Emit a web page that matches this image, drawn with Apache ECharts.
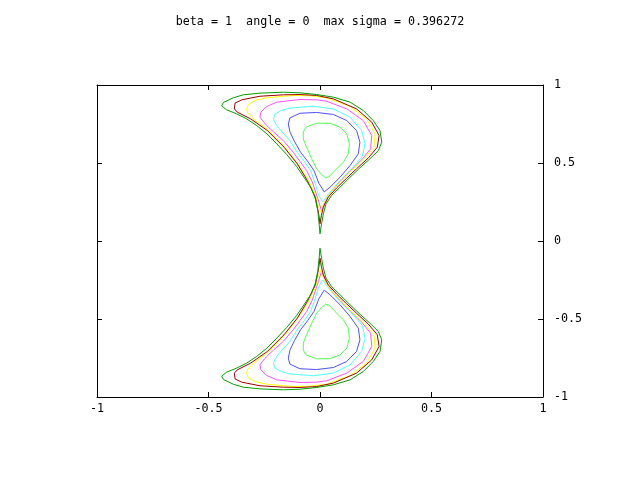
<!DOCTYPE html>
<html>
<head>
<meta charset="utf-8">
<script src="https://cdn.jsdelivr.net/npm/echarts@6/dist/echarts.min.js"></script>
<style>html,body{margin:0;padding:0;background:#fff;}#c{width:640px;height:480px;}</style>
</head>
<body>
<div id="c"></div>
<script>
const titleText = "beta = 1  angle = 0  max sigma = 0.396272";
const xTickValues = [-1, -0.5, 0, 0.5, 1];
const yTickValues = [-1, -0.5, 0, 0.5, 1];

// Contour levels, top lobe (outermost to innermost)
const topC1 = [[0,0.046],[-0.004,0.110],[-0.010,0.196],[-0.021,0.271],[-0.040,0.341],[-0.072,0.409],[-0.105,0.478],[-0.149,0.554],[-0.194,0.623],[-0.238,0.687],[-0.284,0.740],[-0.329,0.783],[-0.374,0.815],[-0.419,0.841],[-0.441,0.866],[-0.433,0.888],[-0.389,0.918],[-0.344,0.937],[-0.269,0.948],[-0.164,0.954],[-0.090,0.950],[-0.015,0.939],[0.060,0.922],[0.135,0.890],[0.194,0.837],[0.239,0.772],[0.269,0.708],[0.277,0.634],[0.262,0.580],[0.224,0.527],[0.179,0.469],[0.135,0.409],[0.090,0.345],[0.052,0.292],[0.027,0.238],[0.015,0.174],[0.007,0.110],[0,0.046]];
const topC2 = [[0,0.110],[-0.006,0.174],[-0.021,0.281],[-0.057,0.388],[-0.102,0.495],[-0.161,0.601],[-0.236,0.708],[-0.311,0.783],[-0.371,0.826],[-0.384,0.847],[-0.381,0.884],[-0.351,0.905],[-0.269,0.928],[-0.164,0.937],[-0.090,0.939],[-0.015,0.933],[0.060,0.911],[0.164,0.847],[0.232,0.762],[0.265,0.676],[0.257,0.601],[0.217,0.533],[0.164,0.463],[0.120,0.403],[0.075,0.341],[0.037,0.281],[0.015,0.217],[0.006,0.163],[0,0.110]];
const topC3 = [[0.003,0.185],[-0.007,0.217],[-0.022,0.302],[-0.060,0.409],[-0.105,0.505],[-0.164,0.612],[-0.239,0.719],[-0.299,0.783],[-0.326,0.826],[-0.329,0.847],[-0.321,0.875],[-0.291,0.901],[-0.239,0.918],[-0.120,0.933],[-0.045,0.931],[0.030,0.918],[0.135,0.862],[0.209,0.783],[0.247,0.687],[0.242,0.601],[0.202,0.533],[0.149,0.463],[0.105,0.398],[0.060,0.334],[0.027,0.270],[0.009,0.217],[0.003,0.185]];
const topC4 = [[0.007,0.195],[-0.012,0.281],[-0.035,0.380],[-0.060,0.452],[-0.090,0.510],[-0.120,0.569],[-0.165,0.644],[-0.209,0.700],[-0.239,0.740],[-0.260,0.775],[-0.269,0.794],[-0.265,0.826],[-0.239,0.862],[-0.194,0.890],[-0.090,0.907],[-0.015,0.905],[0.030,0.896],[0.120,0.847],[0.194,0.772],[0.232,0.676],[0.227,0.591],[0.191,0.527],[0.142,0.456],[0.097,0.392],[0.057,0.328],[0.027,0.264],[0.007,0.195]];
const topC5 = [[0.012,0.250],[-0.005,0.290],[-0.022,0.370],[-0.042,0.452],[-0.070,0.510],[-0.103,0.569],[-0.135,0.644],[-0.170,0.700],[-0.194,0.740],[-0.209,0.783],[-0.202,0.815],[-0.172,0.837],[-0.135,0.852],[-0.030,0.864],[0.060,0.847],[0.135,0.794],[0.187,0.708],[0.202,0.623],[0.190,0.542],[0.142,0.463],[0.090,0.388],[0.045,0.313],[0.012,0.250]];
const topC6 = [[0.019,0.315],[-0.005,0.370],[-0.027,0.452],[-0.055,0.510],[-0.087,0.569],[-0.115,0.640],[-0.135,0.700],[-0.142,0.751],[-0.135,0.789],[-0.090,0.819],[-0.015,0.824],[0.060,0.811],[0.120,0.772],[0.164,0.708],[0.179,0.634],[0.172,0.559],[0.135,0.484],[0.090,0.409],[0.045,0.345],[0.019,0.315]];
const topC7 = [[0.025,0.405],[0.007,0.426],[-0.015,0.463],[-0.037,0.527],[-0.060,0.601],[-0.075,0.655],[-0.075,0.698],[-0.063,0.730],[-0.015,0.755],[0.045,0.755],[0.090,0.730],[0.120,0.687],[0.132,0.623],[0.127,0.559],[0.105,0.505],[0.067,0.452],[0.042,0.413],[0.025,0.405]];

// Contour levels, bottom lobe (outermost to innermost)
const botC1 = [[0,-0.046],[-0.004,-0.110],[-0.010,-0.196],[-0.021,-0.271],[-0.040,-0.341],[-0.072,-0.409],[-0.105,-0.478],[-0.149,-0.554],[-0.194,-0.623],[-0.238,-0.687],[-0.284,-0.740],[-0.329,-0.783],[-0.374,-0.815],[-0.419,-0.841],[-0.441,-0.866],[-0.433,-0.888],[-0.389,-0.918],[-0.344,-0.937],[-0.269,-0.948],[-0.164,-0.954],[-0.090,-0.950],[-0.015,-0.939],[0.060,-0.922],[0.135,-0.890],[0.194,-0.837],[0.239,-0.772],[0.269,-0.708],[0.277,-0.634],[0.262,-0.580],[0.224,-0.527],[0.179,-0.469],[0.135,-0.409],[0.090,-0.345],[0.052,-0.292],[0.027,-0.238],[0.015,-0.174],[0.007,-0.110],[0,-0.046]];
const botC2 = [[0,-0.110],[-0.006,-0.174],[-0.021,-0.281],[-0.057,-0.388],[-0.102,-0.495],[-0.161,-0.601],[-0.236,-0.708],[-0.311,-0.783],[-0.371,-0.826],[-0.384,-0.847],[-0.381,-0.884],[-0.351,-0.905],[-0.269,-0.928],[-0.164,-0.937],[-0.090,-0.939],[-0.015,-0.933],[0.060,-0.911],[0.164,-0.847],[0.232,-0.762],[0.265,-0.676],[0.257,-0.601],[0.217,-0.533],[0.164,-0.463],[0.120,-0.403],[0.075,-0.341],[0.037,-0.281],[0.015,-0.217],[0.006,-0.163],[0,-0.110]];
const botC3 = [[0.003,-0.185],[-0.007,-0.217],[-0.022,-0.302],[-0.060,-0.409],[-0.105,-0.505],[-0.164,-0.612],[-0.239,-0.719],[-0.299,-0.783],[-0.326,-0.826],[-0.329,-0.847],[-0.321,-0.875],[-0.291,-0.901],[-0.239,-0.918],[-0.120,-0.933],[-0.045,-0.931],[0.030,-0.918],[0.135,-0.862],[0.209,-0.783],[0.247,-0.687],[0.242,-0.601],[0.202,-0.533],[0.149,-0.463],[0.105,-0.398],[0.060,-0.334],[0.027,-0.270],[0.009,-0.217],[0.003,-0.185]];
const botC4 = [[0.007,-0.195],[-0.012,-0.281],[-0.035,-0.380],[-0.060,-0.452],[-0.090,-0.510],[-0.120,-0.569],[-0.165,-0.644],[-0.209,-0.700],[-0.239,-0.740],[-0.260,-0.775],[-0.269,-0.794],[-0.265,-0.826],[-0.239,-0.862],[-0.194,-0.890],[-0.090,-0.907],[-0.015,-0.905],[0.030,-0.896],[0.120,-0.847],[0.194,-0.772],[0.232,-0.676],[0.227,-0.591],[0.191,-0.527],[0.142,-0.456],[0.097,-0.392],[0.057,-0.328],[0.027,-0.264],[0.007,-0.195]];
const botC5 = [[0.012,-0.250],[-0.005,-0.290],[-0.022,-0.370],[-0.042,-0.452],[-0.070,-0.510],[-0.103,-0.569],[-0.135,-0.644],[-0.170,-0.700],[-0.194,-0.740],[-0.209,-0.783],[-0.202,-0.815],[-0.172,-0.837],[-0.135,-0.852],[-0.030,-0.864],[0.060,-0.847],[0.135,-0.794],[0.187,-0.708],[0.202,-0.623],[0.190,-0.542],[0.142,-0.463],[0.090,-0.388],[0.045,-0.313],[0.012,-0.250]];
const botC6 = [[0.019,-0.315],[-0.005,-0.370],[-0.027,-0.452],[-0.055,-0.510],[-0.087,-0.569],[-0.115,-0.640],[-0.135,-0.700],[-0.142,-0.751],[-0.135,-0.789],[-0.090,-0.819],[-0.015,-0.824],[0.060,-0.811],[0.120,-0.772],[0.164,-0.708],[0.179,-0.634],[0.172,-0.559],[0.135,-0.484],[0.090,-0.409],[0.045,-0.345],[0.019,-0.315]];
const botC7 = [[0.025,-0.405],[0.007,-0.426],[-0.015,-0.463],[-0.037,-0.527],[-0.060,-0.601],[-0.075,-0.655],[-0.075,-0.698],[-0.063,-0.730],[-0.015,-0.755],[0.045,-0.755],[0.090,-0.730],[0.120,-0.687],[0.132,-0.623],[0.127,-0.559],[0.105,-0.505],[0.067,-0.452],[0.042,-0.413],[0.025,-0.405]];

const levelColors = ['#00a000', '#a00000', '#ffff00', '#ff50ff', '#50ffff', '#5050ff', '#50ff50'];
const topLevels = [topC1, topC2, topC3, topC4, topC5, topC6, topC7];
const botLevels = [botC1, botC2, botC3, botC4, botC5, botC6, botC7];

const font = 'DejaVu Sans Mono';
const series = [];
[topLevels, botLevels].forEach(function (levels) {
  levels.forEach(function (d, i) {
    series.push({
      type: 'line', data: d, showSymbol: false, symbol: 'none', silent: true,
      lineStyle: { color: levelColors[i], width: 1 }, z: 10 - i
    });
  });
});

function axisCommon(pos, showLabel) {
  return {
    type: 'value', min: -1, max: 1, interval: 0.5, position: pos,
    axisLine: { show: true, onZero: false, lineStyle: { color: '#000', width: 1 } },
    axisTick: { show: true, inside: true, length: 5, lineStyle: { color: '#000', width: 1 } },
    splitLine: { show: false },
    axisLabel: { show: showLabel, fontFamily: font, fontSize: 11.7, color: '#000' }
  };
}
const xb = axisCommon('bottom', true); xb.axisLabel.margin = 6;
const xt = axisCommon('top', false);
const yr = axisCommon('right', true); yr.axisLabel.margin = 11;
const yl = axisCommon('left', false);

const chart = echarts.init(document.getElementById('c'), null, { renderer: 'canvas' });
chart.setOption({
  animation: false,
  backgroundColor: '#fff',
  title: {
    text: titleText, left: 'center', top: 16, padding: 0,
    textStyle: { fontFamily: font, fontSize: 11.7, fontWeight: 'normal', color: '#000' }
  },
  grid: { left: 97, top: 85, width: 446, height: 312 },
  xAxis: [xb, xt],
  yAxis: [yr, yl],
  series: series
});
</script>
</body>
</html>
